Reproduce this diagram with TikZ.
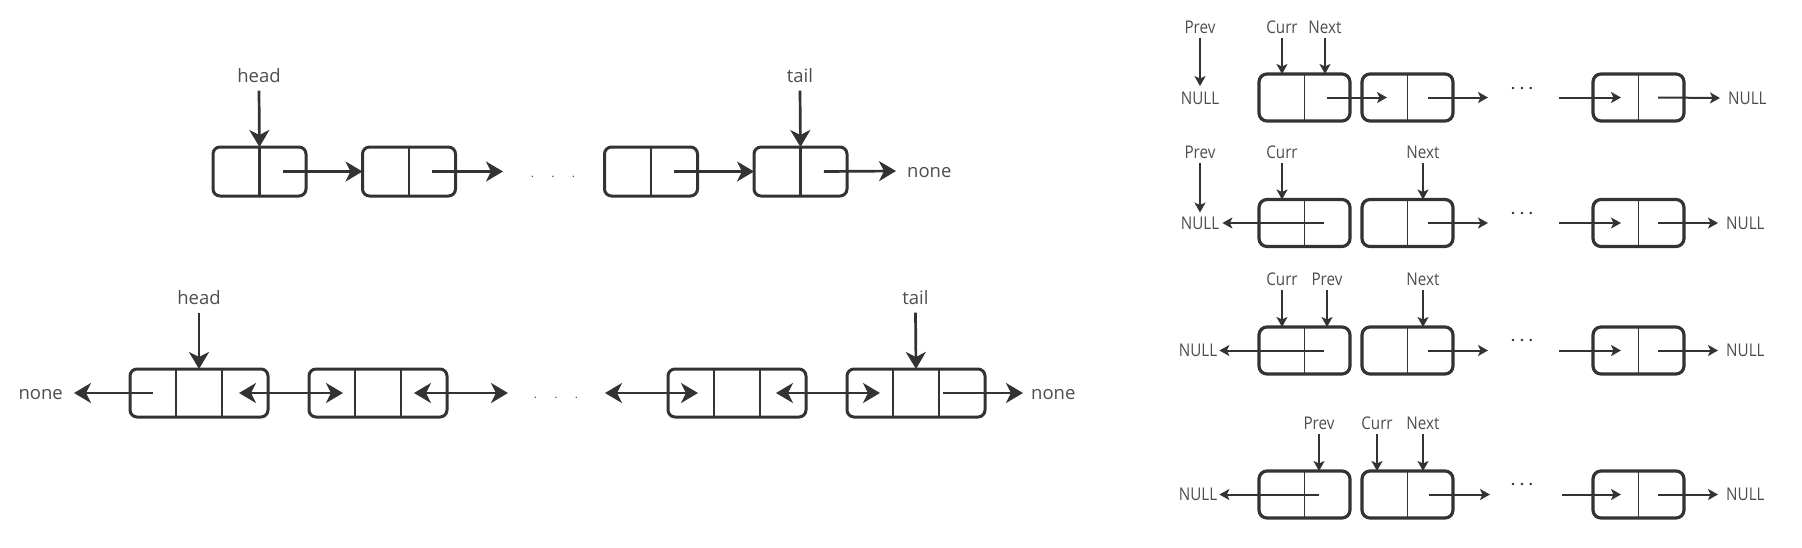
\documentclass[tikz,border=0pt]{standalone}
\usepackage{fontspec}
\setmainfont{Open Sans}
\newfontfamily\narrowfont{Open Sans}[FakeStretch=0.87]
\definecolor{LineGray}{RGB}{51, 51, 51}
\definecolor{TextGray}{RGB}{77, 77, 77}
\usetikzlibrary{arrows.meta, positioning, calc}

\begin{document}
\begin{tikzpicture}[x=1pt, y=1pt,
        cell/.style={rectangle, draw=LineGray, line width=3pt, rounded corners=7pt, minimum width=93pt, minimum height=49pt, inner sep=0pt, outer sep=0pt},
        dcell/.style={cell, minimum width=138pt, minimum height=48pt},
        rcell/.style={cell, line width=3.2pt, rounded corners=8pt, minimum width=91pt, minimum height=47pt},
        divider/.style={draw=LineGray, line width=2.2pt},
        rdivider/.style={draw=LineGray, line width=1.7pt},
        tag/.style={text=TextGray, font=\fontsize{18.5}{20}\selectfont, inner sep=0pt, text height=13pt, text depth=0pt},
        rtag/.style={text=TextGray, font=\narrowfont\fontsize{17.5}{19}\selectfont, inner sep=0pt, text height=12.5pt, text depth=0pt},
        dots/.style={text=TextGray, font=\fontsize{12}{12}\selectfont, inner sep=0pt},
        rdots/.style={text=LineGray, font=\bfseries\fontsize{14}{14}\selectfont, inner sep=0pt},
        arrow/.style={->, >={Stealth[length=17pt, width=20pt, inset=5pt]}, draw=LineGray, line width=2.7pt},
        darrow/.style={arrow, <->},
        rarrow/.style={->, >={Stealth[length=10pt, width=11pt, inset=2.5pt]}, draw=LineGray, line width=2pt}
    ]
        \useasboundingbox (0,0) rectangle (1802,-547);

        \node[cell] (n1) at (259.5,-171.5) {};
        \node[cell] (n2) at (409,-171.5) {};
        \node[cell] (n3) at (651,-171.5) {};
        \node[cell] (n4) at (800.5,-171.5) {};
        \draw[divider] (n1.north) -- (n1.south);
        \draw[divider] (n2.north) -- (n2.south);
        \draw[divider] (n3.north) -- (n3.south);
        \draw[divider] (n4.north) -- (n4.south);
        \node[tag] (head1) at (259,-76) {head};
        \node[tag] (tail1) at (800,-76) {tail};
        \node[tag, anchor=west] (none1) at (907,-171) {none};
        \node[dots] (gap1) at (553,-177) {.\hspace{17.3pt}.\hspace{17.3pt}.};
        \coordinate (e1) at (503,-171.5);
        \draw[arrow] ([yshift=-8pt]head1.south) -- (n1.north);
        \draw[arrow] ([yshift=-8pt]tail1.south) -- (n4.north);
        \draw[arrow] ($(n1)!0.5!(n1.east)$) -- (n2.west);
        \draw[arrow] ($(n2)!0.5!(n2.east)$) -- (e1);
        \draw[arrow] ($(n3)!0.5!(n3.east)$) -- (n4.west);
        \draw[arrow] ($(n4)!0.5!(n4.east)$) -- ([xshift=-11pt]none1.west);

        \node[dcell] (d1) at (199,-393) {};
        \node[dcell] (d2) at (378,-393) {};
        \node[dcell] (d3) at (737,-393) {};
        \node[dcell] (d4) at (916,-393) {};
        \draw[divider] ($(d1.north west)!1/3!(d1.north east)$) -- ($(d1.south west)!1/3!(d1.south east)$);
        \draw[divider] ($(d1.north west)!2/3!(d1.north east)$) -- ($(d1.south west)!2/3!(d1.south east)$);
        \draw[divider] ($(d2.north west)!1/3!(d2.north east)$) -- ($(d2.south west)!1/3!(d2.south east)$);
        \draw[divider] ($(d2.north west)!2/3!(d2.north east)$) -- ($(d2.south west)!2/3!(d2.south east)$);
        \draw[divider] ($(d3.north west)!1/3!(d3.north east)$) -- ($(d3.south west)!1/3!(d3.south east)$);
        \draw[divider] ($(d3.north west)!2/3!(d3.north east)$) -- ($(d3.south west)!2/3!(d3.south east)$);
        \draw[divider] ($(d4.north west)!1/3!(d4.north east)$) -- ($(d4.south west)!1/3!(d4.south east)$);
        \draw[divider] ($(d4.north west)!2/3!(d4.north east)$) -- ($(d4.south west)!2/3!(d4.south east)$);
        \node[tag] (head2) at (199,-298) {head};
        \node[tag] (tail2) at (915.5,-298) {tail};
        \node[tag, anchor=east] (none2) at (63,-393) {none};
        \node[tag, anchor=west] (none3) at (1031,-393) {none};
        \node[dots] (gap2) at (556,-398) {.\hspace{17.3pt}.\hspace{17.3pt}.};
        \coordinate (e2) at (508,-393);
        \coordinate (e3) at (605,-393);
        \draw[arrow] ([yshift=-8pt]head2.south) -- (d1.north);
        \draw[arrow] ([yshift=-8pt]tail2.south) -- (d4.north);
        \draw[arrow] ($(d1)+(-46,0)$) -- ([xshift=11pt]none2.east);
        \draw[darrow] ($(d1)+(40,0)$) -- ($(d2)+(-35,0)$);
        \draw[darrow] ($(d2)+(36,0)$) -- (e2);
        \draw[darrow] (e3) -- ($(d3)+(-39,0)$);
        \draw[darrow] ($(d3)+(39,0)$) -- ($(d4)+(-36,0)$);
        \draw[arrow] ($(d4)+(27,0)$) -- ([xshift=-8pt]none3.west);

        \node[rcell] (s1a) at (1304.5,-97.5) {};
        \node[rcell] (s1b) at (1407.5,-97.5) {};
        \node[rcell] (s1c) at (1638.5,-97.5) {};
        \draw[rdivider] (s1a.north) -- (s1a.south);
        \draw[rdivider] (s1b.north) -- (s1b.south);
        \draw[rdivider] (s1c.north) -- (s1c.south);
        \node[rtag] (prev1) at (1200,-27) {Prev};
        \node[rtag] (curr1) at (1282,-27) {Curr};
        \node[rtag] (next1) at (1325,-27) {Next};
        \node[rtag] (null1) at (1200,-98) {NULL};
        \node[rtag, anchor=west] (null2) at (1728,-98) {NULL};
        \node[rdots] (gap3) at (1522,-89) {.\hspace{4.8pt}.\hspace{4.8pt}.};
        \coordinate (f1) at (1488,-97.5);
        \coordinate (g1) at (1559,-97.5);
        \draw[rarrow] ([yshift=-4.5pt]prev1.south) -- ([yshift=5.5pt]null1.north);
        \draw[rarrow] ([yshift=-4.5pt]curr1.south) -- (curr1.south |- s1a.north);
        \draw[rarrow] ([yshift=-4.5pt]next1.south) -- (next1.south |- s1a.north);
        \draw[rarrow] ($(s1a)!0.5!(s1a.east)$) -- ($(s1b)+(-20.5,0)$);
        \draw[rarrow] ($(s1b)+(20,0)$) -- (f1);
        \draw[rarrow] (g1) -- ($(s1c)+(-17.5,0)$);
        \draw[rarrow] ($(s1c)+(19.5,0)$) -- ([xshift=-8pt]null2.west);

        \node[rcell] (s2a) at (1304.5,-223) {};
        \node[rcell] (s2b) at (1407.5,-223) {};
        \node[rcell] (s2c) at (1638.5,-223) {};
        \draw[rdivider] (s2a.north) -- (s2a.south);
        \draw[rdivider] (s2b.north) -- (s2b.south);
        \draw[rdivider] (s2c.north) -- (s2c.south);
        \node[rtag] (prev2) at (1200,-152) {Prev};
        \node[rtag] (curr2) at (1282,-152) {Curr};
        \node[rtag] (next2) at (1423,-152) {Next};
        \node[rtag] (null3) at (1200,-223) {NULL};
        \node[rtag, anchor=west] (null4) at (1726,-223) {NULL};
        \node[rdots] (gap4) at (1522,-214) {.\hspace{4.8pt}.\hspace{4.8pt}.};
        \coordinate (f2) at (1488,-223);
        \coordinate (g2) at (1559,-223);
        \draw[rarrow] ([yshift=-4.5pt]prev2.south) -- ([yshift=4pt]null3.north);
        \draw[rarrow] ([yshift=-4.5pt]curr2.south) -- (curr2.south |- s2a.north);
        \draw[rarrow] ([yshift=-4.5pt]next2.south) -- (next2.south |- s2b.north);
        \draw[rarrow] ($(s2a)+(19.5,0)$) -- ([xshift=3pt]null3.east);
        \draw[rarrow] ($(s2b)+(20,0)$) -- (f2);
        \draw[rarrow] (g2) -- ($(s2c)+(-17.5,0)$);
        \draw[rarrow] ($(s2c)+(19.5,0)$) -- ([xshift=-8pt]null4.west);

        \node[rcell] (s3a) at (1304.5,-350.5) {};
        \node[rcell] (s3b) at (1407.5,-350.5) {};
        \node[rcell] (s3c) at (1638.5,-350.5) {};
        \draw[rdivider] (s3a.north) -- (s3a.south);
        \draw[rdivider] (s3b.north) -- (s3b.south);
        \draw[rdivider] (s3c.north) -- (s3c.south);
        \node[rtag] (curr3) at (1282,-279) {Curr};
        \node[rtag] (prev3) at (1327,-279) {Prev};
        \node[rtag] (next3) at (1423,-279) {Next};
        \node[rtag] (null5) at (1198,-350.5) {NULL};
        \node[rtag, anchor=west] (null6) at (1726,-350.5) {NULL};
        \node[rdots] (gap5) at (1522,-341) {.\hspace{4.8pt}.\hspace{4.8pt}.};
        \coordinate (f3) at (1488,-350.5);
        \coordinate (g3) at (1559,-350.5);
        \draw[rarrow] ([yshift=-4.5pt]curr3.south) -- (curr3.south |- s3a.north);
        \draw[rarrow] ([yshift=-4.5pt]prev3.south) -- (prev3.south |- s3a.north);
        \draw[rarrow] ([yshift=-4.5pt]next3.south) -- (next3.south |- s3b.north);
        \draw[rarrow] ($(s3a)+(19.5,0)$) -- ([xshift=2pt]null5.east);
        \draw[rarrow] ($(s3b)+(20.5,0)$) -- (f3);
        \draw[rarrow] (g3) -- ($(s3c)+(-17.5,0)$);
        \draw[rarrow] ($(s3c)+(19.5,0)$) -- ([xshift=-8pt]null6.west);

        \node[rcell] (s4a) at (1304.5,-494.5) {};
        \node[rcell] (s4b) at (1407.5,-494.5) {};
        \node[rcell] (s4c) at (1638.5,-494.5) {};
        \draw[rdivider] (s4a.north) -- (s4a.south);
        \draw[rdivider] (s4b.north) -- (s4b.south);
        \draw[rdivider] (s4c.north) -- (s4c.south);
        \node[rtag] (prev4) at (1319,-423) {Prev};
        \node[rtag] (curr4) at (1377,-423) {Curr};
        \node[rtag] (next4) at (1423,-423) {Next};
        \node[rtag] (null7) at (1198,-494.5) {NULL};
        \node[rtag, anchor=west] (null8) at (1726,-494.5) {NULL};
        \node[rdots] (gap6) at (1522,-485) {.\hspace{4.8pt}.\hspace{4.8pt}.};
        \coordinate (f4) at (1490,-494.5);
        \coordinate (g4) at (1562,-494.5);
        \draw[rarrow] ([yshift=-4.5pt]prev4.south) -- (prev4.south |- s4a.north);
        \draw[rarrow] ([yshift=-4.5pt]curr4.south) -- (curr4.south |- s4b.north);
        \draw[rarrow] ([yshift=-4.5pt]next4.south) -- (next4.south |- s4b.north);
        \draw[rarrow] ($(s4a)+(14.5,0)$) -- ([xshift=2pt]null7.east);
        \draw[rarrow] ($(s4b)+(21.5,0)$) -- (f4);
        \draw[rarrow] (g4) -- ($(s4c)+(-17.5,0)$);
        \draw[rarrow] ($(s4c)+(19.5,0)$) -- ([xshift=-8pt]null8.west);
    \end{tikzpicture}
\end{document}
